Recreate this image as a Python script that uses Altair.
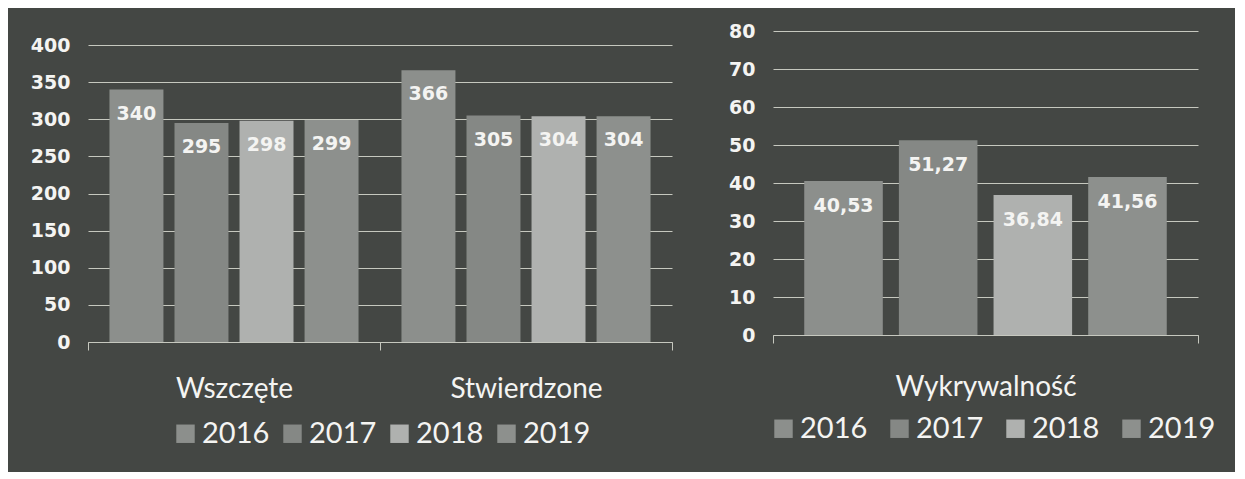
import altair as alt
import pandas as pd

# ---- data ----
years = ["2016", "2017", "2018", "2019"]
left_categories = ["Wszczęte", "Stwierdzone"]
wszczete = [340, 295, 298, 299]
stwierdzone = [366, 305, 304, 304]
right_categories = ["Wykrywalność"]
wykrywalnosc = [40.53, 51.27, 36.84, 41.56]
left_ticks = [0, 50, 100, 150, 200, 250, 300, 350, 400]
right_ticks = [0, 10, 20, 30, 40, 50, 60, 70, 80]

# ---- styles ----
colors = ["#8c8f8c", "#858885", "#afb1af", "#8d908d"]
BG = "#444744"
TXT = "#f4f4f2"
GRID = "#c6c8bf"

rows_l = []
for cat, vals in zip(left_categories, [wszczete, stwierdzone]):
    for y, v in zip(years, vals):
        rows_l.append({"category": cat, "year": y, "value": v, "label": str(v)})
df_left = pd.DataFrame(rows_l)

rows_r = []
for y, v in zip(years, wykrywalnosc):
    rows_r.append({"category": right_categories[0], "year": y, "value": v,
                   "label": f"{v:.2f}".replace(".", ",")})
df_right = pd.DataFrame(rows_r)


def panel(df, cats, domain, ticks, yrange, width, height, lab_pad, dy,
          legend_x, legend_y, col_pad):
    x_enc = alt.X(
        "category:N", sort=cats,
        scale=alt.Scale(paddingInner=0, paddingOuter=0),
        axis=alt.Axis(title=None, labelAngle=0, labelFont="Lato",
                      labelFontSize=28, labelColor=TXT, labelPadding=lab_pad,
                      labelLimit=0,
                      tickBand="extent", tickSize=8, tickColor=GRID,
                      domainColor=GRID, grid=False),
    )
    yscale = dict(domain=domain, nice=False, zero=True)
    if yrange is not None:
        yscale["range"] = yrange
    y_enc = alt.Y(
        "value:Q", scale=alt.Scale(**yscale),
        axis=alt.Axis(title=None, values=ticks, labelFont="DejaVu Sans",
                      labelFontWeight="bold", labelFontSize=19,
                      labelColor=TXT, labelPadding=18, ticks=False,
                      domain=False, grid=True, gridColor=GRID, gridWidth=1),
    )
    xo = alt.XOffset("year:N", sort=years,
                     scale=alt.Scale(paddingInner=0.17, paddingOuter=0.33))
    base = alt.Chart(df).encode(x=x_enc, y=y_enc, xOffset=xo)
    bars = base.mark_bar().encode(
        color=alt.Color(
            "year:N", sort=years,
            scale=alt.Scale(domain=years, range=colors),
            legend=alt.Legend(orient="none", legendX=legend_x,
                              legendY=legend_y, direction="horizontal",
                              title=None, symbolType="square",
                              symbolSize=340, symbolStrokeWidth=0,
                              symbolOpacity=1, labelFont="Lato",
                              labelFontSize=29, labelColor=TXT,
                              labelOffset=2, columnPadding=col_pad),
        )
    )
    text = base.mark_text(baseline="middle", dy=dy, font="DejaVu Sans",
                          fontWeight="bold", fontSize=19,
                          color=TXT).encode(text="label:N")
    return alt.layer(bars, text).properties(width=width, height=height)


left = panel(df_left, left_categories, [0, 400], left_ticks, [311, 14],
             584, 311, 25, 24, 83, 388, 8)
right = panel(df_right, right_categories, [0, 80], right_ticks, None,
              425, 304, 30, 25, -4, 383, 17)

chart = (
    alt.hconcat(left, right, spacing=101, bounds="flush")
    .resolve_scale(color="independent", x="independent", y="independent",
                   xOffset="independent")
    .resolve_legend(color="independent")
    .properties(background=BG,
                padding={"left": 22, "top": 14, "right": 19, "bottom": 23})
    .configure_view(stroke=None)
)

chart.save("out.html", embed_options={"renderer": "svg", "actions": False})
